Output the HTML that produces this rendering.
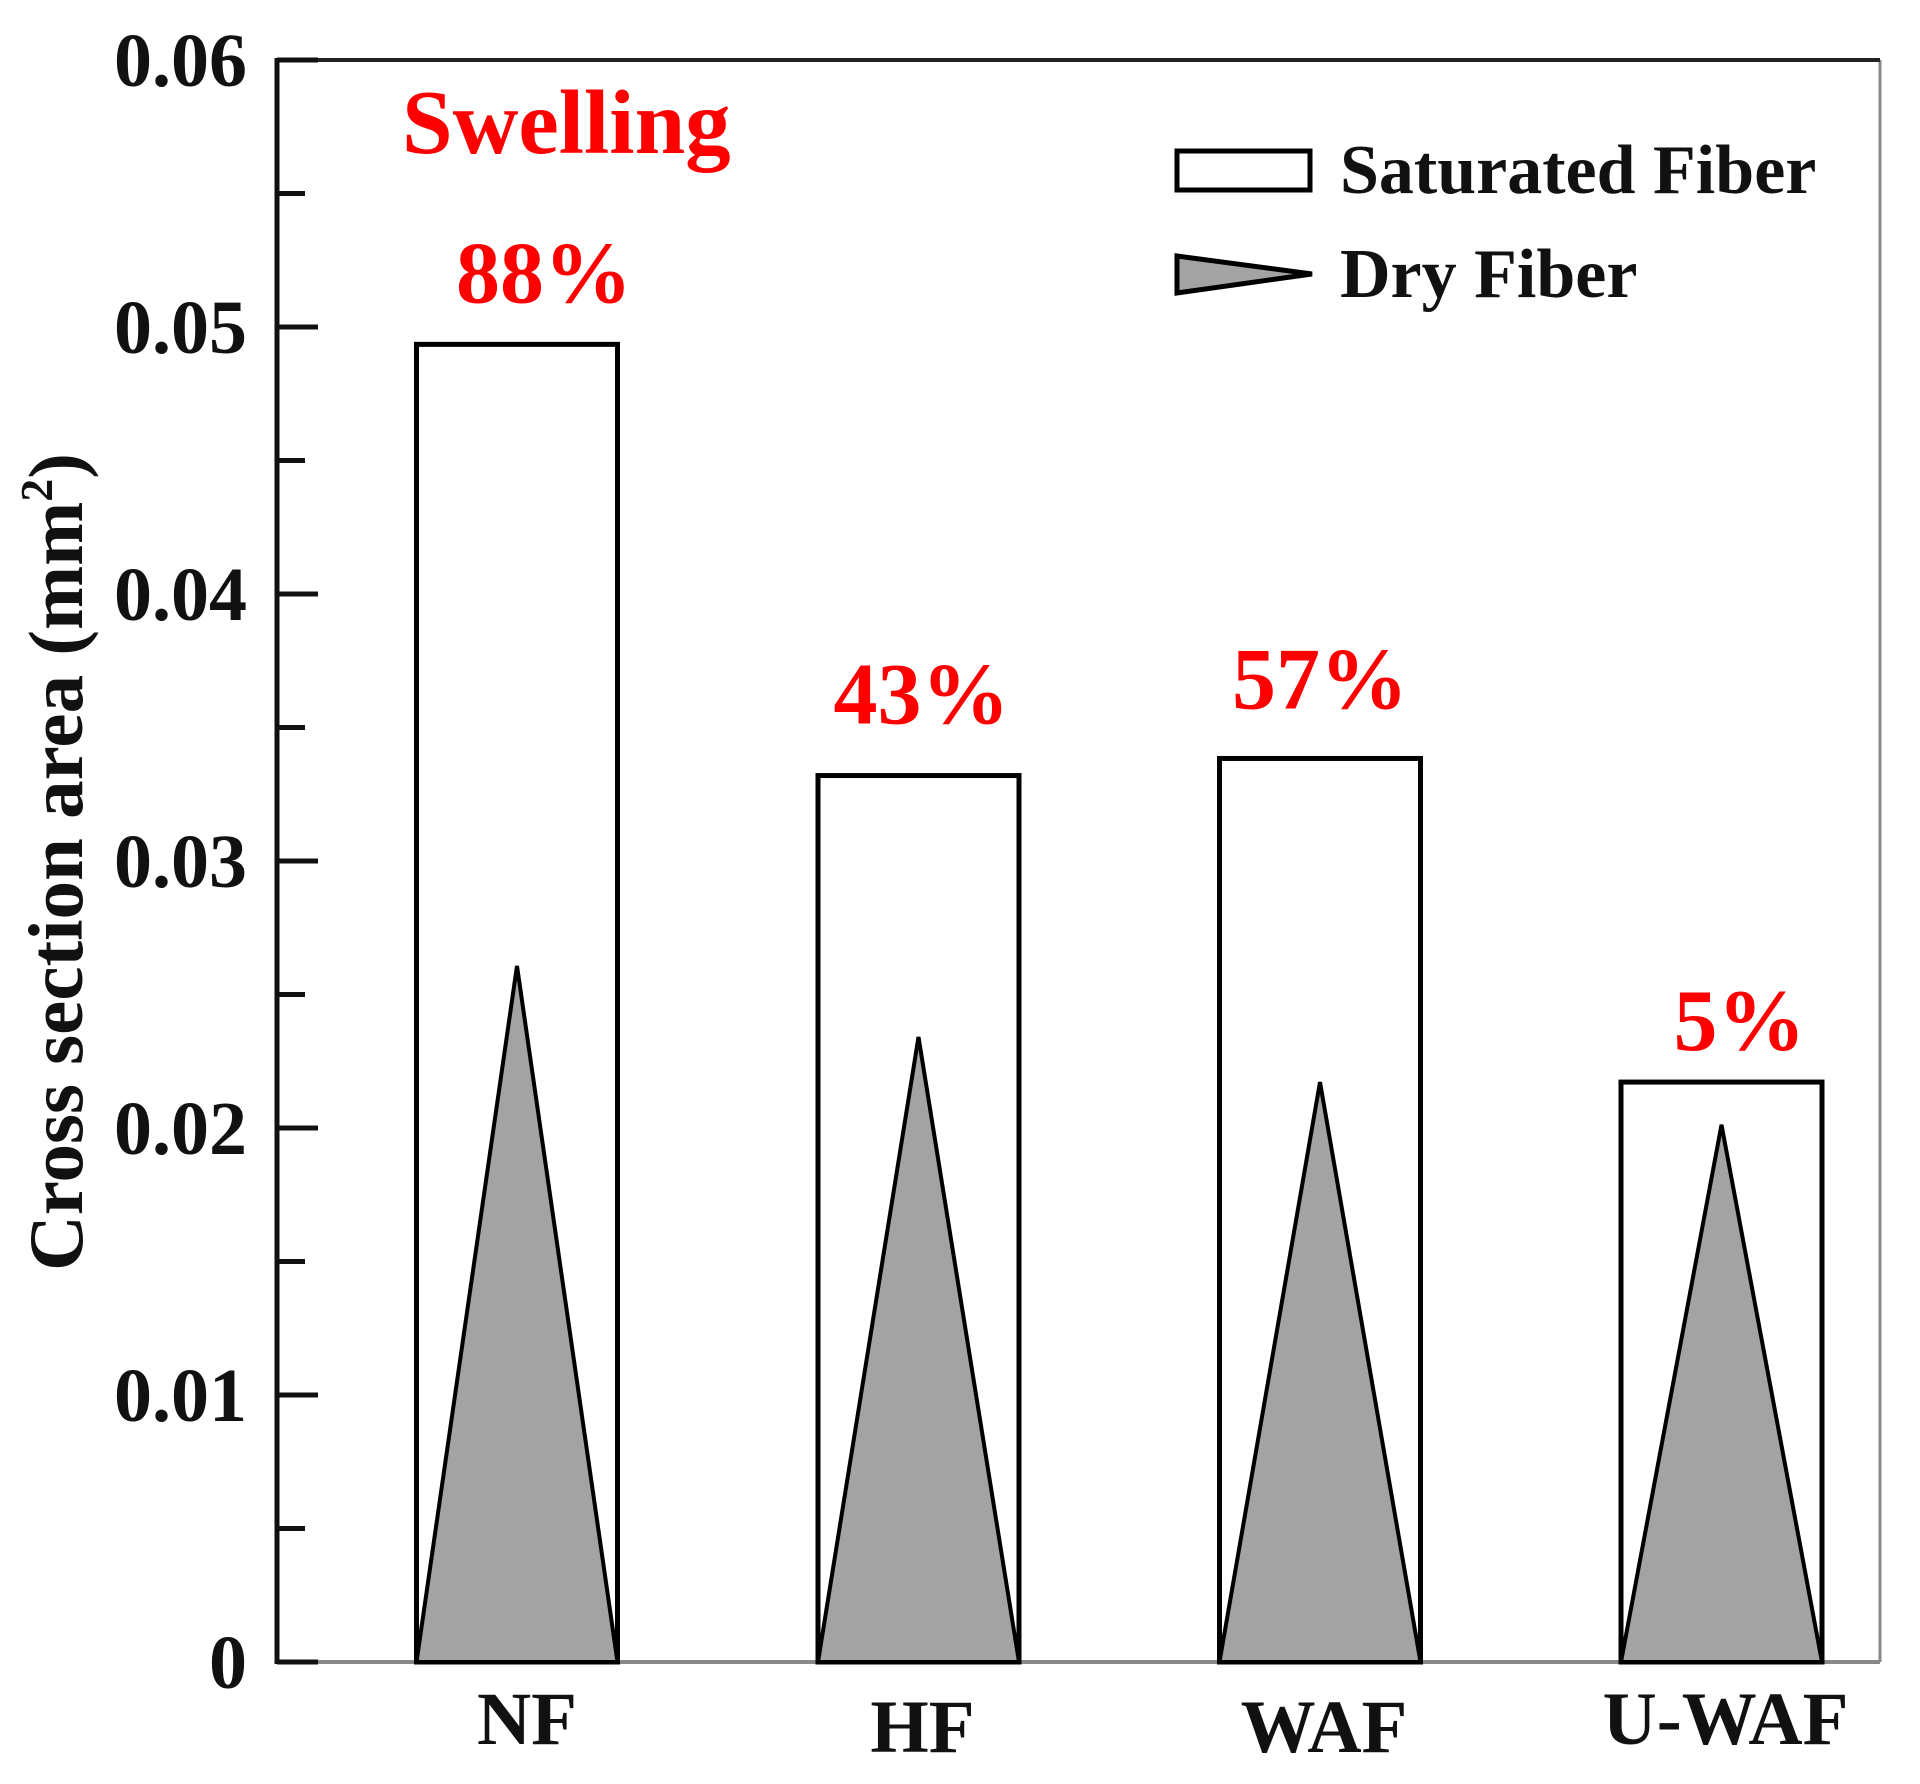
<!DOCTYPE html>
<html><head><meta charset="utf-8"><style>
html,body{margin:0;padding:0;background:#fff;}
svg{display:block;}
text{font-family:"Liberation Serif",serif;font-weight:bold;}
</style></head><body>
<svg id="chart" width="1920" height="1784" viewBox="0 0 1920 1784" xmlns="http://www.w3.org/2000/svg">
<g id="axes"></g>
<g id="bars"></g>
<g id="labels"></g>
<text x="402" y="153" font-size="91" fill="#ff0000">Swelling</text>
<g>
<rect x="1177" y="151" width="133" height="39" fill="#fff" stroke="#000" stroke-width="5"/>
<text x="1340" y="193" font-size="70" fill="#111">Saturated Fiber</text>
<polygon points="1177,256 1312,274 1177,293" fill="#a3a3a3" stroke="#000" stroke-width="5"/>
<text x="1340" y="297" font-size="70" fill="#111">Dry Fiber</text>
</g>
<text transform="translate(82,862) rotate(-90)" text-anchor="middle" font-size="77" fill="#111">Cross section area (mm<tspan font-size="46" dy="-30">2</tspan><tspan dy="30">)</tspan></text>
</svg>
<script>
const categories = ["NF","HF","WAF","U-WAF"];
const saturated = [0.04935,0.0332,0.03384,0.02172];
const dry = [0.02607,0.02341,0.02172,0.02012];
const swellLabels = ["88%","43%","57%","5%"];
const yTicks = [0,0.01,0.02,0.03,0.04,0.05,0.06];
const yTickLabels = ["0","0.01","0.02","0.03","0.04","0.05","0.06"];

const NS="http://www.w3.org/2000/svg";
const X0=277, X1=1880, Y0=1662, YT=60, YMAX=0.06;
const y = v => Y0 - v/YMAX*(Y0-YT);
const xc = i => 517 + i*401.5;
const BW = 201;
const labelShift = [27, 3, 0, 18];
const labelRise = [42, 52, 50, 32];
function mk(tag, attrs, parent){const e=document.createElementNS(NS,tag);for(const k in attrs)e.setAttribute(k,attrs[k]);parent.appendChild(e);return e;}
const axes=document.getElementById('axes'), bars=document.getElementById('bars'), labels=document.getElementById('labels');

let fr=mk('line',{x1:X0,y1:Y0,x2:X1,y2:Y0,stroke:'#888',"stroke-width":4},axes);


fr=mk('line',{x1:X1,y1:YT,x2:X1,y2:Y0,stroke:'#888',"stroke-width":3},axes);


fr=mk('line',{x1:X0,y1:YT,x2:X1,y2:YT,stroke:'#222',"stroke-width":4},axes);


fr=mk('line',{x1:X0,y1:YT-2,x2:X0,y2:Y0+2,stroke:'#111',"stroke-width":5},axes);



yTicks.forEach((t,i)=>{
  const tk=mk('line',{x1:X0,y1:y(t),x2:X0+41,y2:y(t),stroke:'#111',"stroke-width":5},axes);
  
  
  const lb=mk('text',{x:247,y:y(t)+26,"text-anchor":"end","font-size":76,fill:'#111'},axes);
  lb.textContent=yTickLabels[i];
  
  
  if(i<yTicks.length-1){
    const mt=mk('line',{x1:X0,y1:y(t+0.005),x2:X0+28,y2:y(t+0.005),stroke:'#111',"stroke-width":5},axes);
    
    
  }
});

categories.forEach((c,i)=>{
  const l=xc(i)-BW/2, r=xc(i)+BW/2;
  const b=mk('rect',{x:l,y:y(saturated[i]),width:BW,height:Y0-y(saturated[i]),fill:'#fff',stroke:'#000',"stroke-width":5},bars);
  
  
  const tr=mk('polygon',{points:`${l},${Y0} ${xc(i)},${y(dry[i])} ${r},${Y0}`,fill:'#a3a3a3',stroke:'#000',"stroke-width":4,"stroke-linejoin":"miter"},bars);
  
  
  const p=mk('text',{x:xc(i)+labelShift[i],y:y(saturated[i])-labelRise[i],"text-anchor":"middle","font-size":88,fill:'#ff0000'},labels);
  p.textContent=swellLabels[i];
  
  
  const xl=mk('text',{x:xc(i)+4+(i==0?6:0),y:1744+(i==1||i==2?8:0),"text-anchor":"middle","font-size":75,fill:'#111'},labels);
  xl.textContent=c;
  
  
});
</script>
</body></html>
